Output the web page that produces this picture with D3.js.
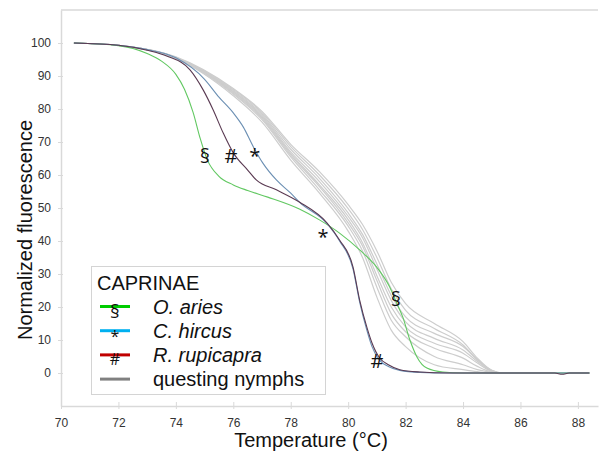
<!DOCTYPE html>
<html>
<head>
<meta charset="utf-8">
<script src="https://cdn.jsdelivr.net/npm/d3@7/dist/d3.min.js"></script>
<style>
  html, body { margin: 0; padding: 0; background: #fff; }
  svg { display: block; }
</style>
</head>
<body>
<svg id="chart" width="599" height="467"></svg>
<script>
// Melting curves: normalized fluorescence vs temperature
const xTicks = [70, 72, 74, 76, 78, 80, 82, 84, 86, 88];
const yTicks = [0, 10, 20, 30, 40, 50, 60, 70, 80, 90, 100];

// O. aries
const ariesT = [70.45, 72, 73, 73.5, 74, 74.3, 74.6, 74.85, 75.1, 75.5, 76, 76.5, 77.2, 78.3, 79, 79.7, 80.4, 81, 81.45, 81.7, 81.9, 82.15, 82.4, 82.74, 83.3, 84, 88.4];
const ariesV = [100, 99.2, 96.8, 94.5, 90.5, 86, 79, 71, 64.5, 59.6, 57, 55.3, 53.3, 49.7, 46.4, 42.4, 37.3, 32, 26, 21, 17, 10, 4.8, 1.5, 0.3, 0, 0];

// C. hircus
const hircusT = [70.45, 72, 73, 74, 75, 75.5, 76, 76.35, 76.7, 77.03, 77.5, 78, 78.3, 79.26, 79.7, 80.17, 80.4, 80.65, 80.83, 81.1, 81.4, 81.8, 82.5, 83.5, 88.4];
const hircusV = [100, 99.3, 98, 95.5, 89, 83.6, 78.8, 74.5, 68.5, 63.6, 58.5, 54.5, 51.8, 45.3, 40, 31.5, 21.5, 13, 8, 3.8, 2, 0.8, 0.2, 0, 0];

// R. rupicapra
const rupiT = [70.45, 72, 73, 73.7, 74.5, 74.95, 75.3, 75.65, 76, 76.5, 76.8, 77.5, 78.3, 79.26, 79.7, 80.17, 80.4, 80.65, 80.83, 81.1, 81.4, 81.8, 82.5, 83.5, 87.2, 87.45, 87.7, 88.4];
const rupiV = [100, 99.3, 97.8, 96, 91.8, 85.8, 79.7, 72.7, 66.7, 61.5, 58.5, 55.5, 51.8, 45.5, 40.3, 32.1, 22.1, 13.9, 9.1, 4.5, 2.5, 1, 0.3, 0, 0, -0.4, 0, 0];

// Questing nymphs (grey curves), sampled at common temperatures
const nymphT = [70.45, 72, 74, 76, 77, 78, 79, 80, 80.5, 81, 81.5, 82, 83, 84, 84.5, 85, 85.4, 88.4];
const nymph1 = [100, 99.3, 95.3, 84, 76, 64.5, 54.5, 43, 35, 23, 13, 8, 2.5, 1, 0.4, 0, 0, 0];
const nymph2 = [100, 99.3, 95.4, 84.5, 76.8, 65.5, 55.5, 44.5, 37, 26, 16, 11, 5, 2.5, 1, 0.2, 0, 0];
const nymph3 = [100, 99.3, 95.5, 84.8, 77.2, 66, 56.5, 45.5, 38.5, 28, 18, 12.5, 7.5, 4.5, 2, 0.3, 0, 0];
const nymph4 = [100, 99.3, 95.5, 85.1, 77.6, 66.5, 57, 46.5, 39.5, 29.5, 20, 14, 9, 6, 3, 0.5, 0, 0];
const nymph5 = [100, 99.3, 95.6, 85.3, 78, 67, 58, 47.5, 41, 31.5, 22, 15.5, 10.5, 7, 3.5, 0.6, 0, 0];
const nymph6 = [100, 99.3, 95.6, 85.6, 78.4, 67.8, 59, 48.5, 42, 33, 23.5, 17, 12, 8, 4, 0.7, 0, 0];
const nymph7 = [100, 99.3, 95.7, 85.9, 78.9, 68.6, 60, 49.8, 43.5, 35, 25.5, 19, 13.5, 8.5, 4, 0.8, 0, 0];
const nymph8 = [100, 99.3, 95.8, 86.2, 79.3, 69.3, 61, 51, 45, 37, 27.5, 21, 15, 9.5, 4.5, 0.8, 0, 0];
const nymphs = [nymph1, nymph2, nymph3, nymph4, nymph5, nymph6, nymph7, nymph8];

// Legend entries
const legendTitle = "CAPRINAE";
const legendNames = ["O. aries", "C. hircus", "R. rupicapra", "questing nymphs"];
const legendSymbols = ["§", "*", "#", ""];
const legendColors = ["#00cc00", "#00b0f0", "#c00000", "#808080"];

// Symbol annotations on the curves: [symbol, temperature, fluorescence]
const marks = [
  ["§", 75.01, 66], ["#", 75.92, 66], ["*", 76.75, 66.7],
  ["*", 79.12, 42.4], ["§", 81.66, 22.7], ["#", 81.0, 3.9]
];

const svg = d3.select("#chart");
const x = d3.scaleLinear().domain([70, 88.7]).range([61, 598]);
const y = d3.scaleLinear().domain([-10, 110]).range([406, 10]);
const axisColor = "#d9d9d9";
const font = "Arial, 'Liberation Sans', sans-serif";
const symFont = "'Open Sans', 'Noto Sans', sans-serif";
// asterisks sit high in the font, nudge them down
const symShift = s => (s === "*" ? 3 : 0);

// Frame: top border, y axis, x axis
svg.append("line").attr("x1", x(70)).attr("x2", 598).attr("y1", y(110)).attr("y2", y(110))
  .attr("stroke", "#e2e2e2").attr("stroke-width", 2);

const xAxis = svg.append("g").attr("transform", `translate(0,${y(-10)})`)
  .call(d3.axisBottom(x).tickValues(xTicks).tickFormat(d3.format("d")).tickSize(3).tickSizeOuter(0));
xAxis.select(".domain").attr("stroke", axisColor).attr("stroke-width", 1.5);
xAxis.selectAll(".tick line").attr("stroke", axisColor).attr("y1", -4).attr("y2", 3);
xAxis.selectAll(".tick text").attr("fill", "#333").attr("font-size", 12).attr("font-family", font).attr("dy", "1.25em");

const yAxis = svg.append("g").attr("transform", `translate(${x(70)},0)`)
  .call(d3.axisLeft(y).tickValues(yTicks).tickSize(3).tickSizeOuter(0));
yAxis.select(".domain").attr("stroke", axisColor).attr("stroke-width", 1.5);
yAxis.selectAll(".tick line").attr("stroke", axisColor).attr("x1", -3).attr("x2", 2);
yAxis.selectAll(".tick text").attr("fill", "#333").attr("font-size", 12).attr("font-family", font).attr("x", -10);

const line = d3.line().x(d => x(d[0])).y(d => y(d[1])).curve(d3.curveMonotoneX);
const zip = (ts, vs) => ts.map((t, i) => [t, vs[i]]);

const plot = svg.append("g");
nymphs.forEach(v => {
  plot.append("path").attr("d", line(zip(nymphT, v)))
    .attr("fill", "none").attr("stroke", "#cdcdcd").attr("stroke-width", 1.2);
});
plot.append("path").attr("d", line(zip(ariesT, ariesV)))
  .attr("fill", "none").attr("stroke", "#62c862").attr("stroke-width", 1.1);
plot.append("path").attr("d", line(zip(hircusT, hircusV)))
  .attr("fill", "none").attr("stroke", "#6b8fb3").attr("stroke-width", 1.1);
plot.append("path").attr("d", line(zip(rupiT, rupiV)))
  .attr("fill", "none").attr("stroke", "#5a3a52").attr("stroke-width", 1.1);

// Curve symbols
svg.append("g").selectAll("text").data(marks).join("text")
  .attr("x", d => x(d[1])).attr("y", d => y(d[2]) + symShift(d[0]))
  .attr("text-anchor", "middle").attr("dominant-baseline", "central")
  .attr("font-family", symFont).attr("font-size", 20)
  .attr("fill", "#111").text(d => d[0]);

// Legend
const lg = svg.append("g");
lg.append("rect").attr("x", 91.5).attr("y", 266.5).attr("width", 234).attr("height", 128)
  .attr("fill", "#fff").attr("stroke", "#d4d4d4").attr("stroke-width", 1);
lg.append("text").attr("x", 97).attr("y", 290).attr("font-family", font).attr("font-size", 20)
  .attr("fill", "#111").text(legendTitle);
const legendSym = {
  "§": { dy: 4, size: 19 },
  "*": { dy: 5, size: 16 },
  "#": { dy: 4, size: 16 }
};
legendNames.forEach((name, i) => {
  const cy = 306.5 + i * 24.2;
  lg.append("line").attr("x1", 100).attr("x2", 130).attr("y1", cy).attr("y2", cy)
    .attr("stroke", legendColors[i]).attr("stroke-width", 3);
  const s = legendSymbols[i];
  if (s) {
    lg.append("text").attr("x", 115).attr("y", cy + legendSym[s].dy)
      .attr("text-anchor", "middle").attr("dominant-baseline", "central")
      .attr("font-family", symFont).attr("font-size", legendSym[s].size)
      .attr("fill", "#111").text(s);
  }
  lg.append("text").attr("x", 153).attr("y", cy + 7).attr("font-family", font).attr("font-size", 20)
    .attr("font-style", i < 3 ? "italic" : "normal").attr("fill", "#111").text(name);
});

// Axis titles
svg.append("text").attr("x", 311).attr("y", 447).attr("text-anchor", "middle")
  .attr("font-family", font).attr("font-size", 20).attr("fill", "#111").text("Temperature (°C)");
svg.append("text").attr("transform", "translate(32,230) rotate(-90)").attr("text-anchor", "middle")
  .attr("font-family", font).attr("font-size", 20).attr("fill", "#111").text("Normalized fluorescence");
</script>
</body>
</html>
